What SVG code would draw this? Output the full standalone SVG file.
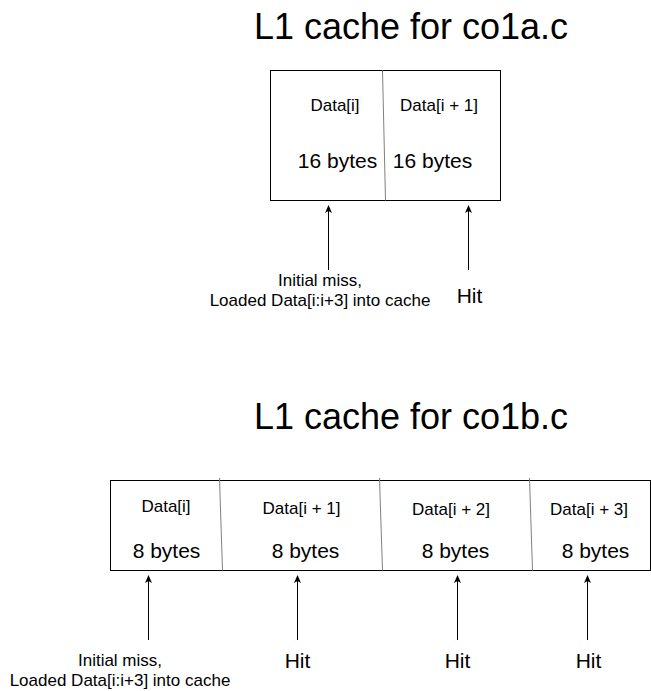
<svg xmlns="http://www.w3.org/2000/svg" width="651" height="691" viewBox="0 0 651 691">
<defs>
<marker id="ah" markerWidth="8" markerHeight="8" refX="7" refY="4" orient="auto" markerUnits="userSpaceOnUse">
<path d="M0,0.5 L8,4 L0,7.5 L2,4 Z" fill="#000"/>
</marker>
<style>
text{font-family:"Liberation Sans",Arial,sans-serif;fill:#000}
.title{font-size:36px;text-anchor:middle}
.sm{font-size:17px;text-anchor:middle}
.md{font-size:21px;text-anchor:middle}
.box{fill:#fff;stroke:#000;stroke-width:1}
.div{stroke:#808080;stroke-width:1;fill:none}
.arr{stroke:#000;stroke-width:1;fill:none;marker-end:url(#ah)}
</style>
</defs>
<rect width="651" height="691" fill="#fff"/>
<g id="title-a"><text class="title" x="411" y="39">L1 cache for co1a.c</text></g>
<g id="cache-a">
<rect class="box" x="270.5" y="70.5" width="230" height="130"/>
<line class="div" x1="382.5" y1="70.5" x2="385.5" y2="200.5"/>
<text class="sm" x="335" y="111">Data[i]</text>
<text class="sm" x="439" y="111">Data[i + 1]</text>
<text class="md" x="337.5" y="168">16 bytes</text>
<text class="md" x="432.5" y="168">16 bytes</text>
</g>
<g id="label-a1"><text class="sm" x="320" y="286">Initial miss,</text><text class="sm" x="320" y="306">Loaded Data[i:i+3] into cache</text></g>
<g id="label-a2"><text class="md" x="469.5" y="303">Hit</text></g>
<g id="title-b"><text class="title" x="411" y="429">L1 cache for co1b.c</text></g>
<g id="cache-b">
<rect class="box" x="110.5" y="480.5" width="540" height="90"/>
<line class="div" x1="219.5" y1="478" x2="222.5" y2="570.5"/>
<line class="div" x1="379.5" y1="478" x2="382.5" y2="570.5"/>
<line class="div" x1="529.5" y1="478" x2="532.5" y2="570.5"/>
<text class="sm" x="166" y="512">Data[i]</text>
<text class="sm" x="301.5" y="514">Data[i + 1]</text>
<text class="sm" x="451" y="515">Data[i + 2]</text>
<text class="sm" x="589" y="515">Data[i + 3]</text>
<text class="md" x="166.5" y="558">8 bytes</text>
<text class="md" x="305.5" y="558">8 bytes</text>
<text class="md" x="455.5" y="558">8 bytes</text>
<text class="md" x="595.5" y="558">8 bytes</text>
</g>
<g id="label-b1"><text class="sm" x="120" y="666">Initial miss,</text><text class="sm" x="120" y="686">Loaded Data[i:i+3] into cache</text></g>
<g id="label-b2"><text class="md" x="297.5" y="668">Hit</text></g>
<g id="label-b3"><text class="md" x="457.5" y="668">Hit</text></g>
<g id="label-b4"><text class="md" x="588.5" y="668">Hit</text></g>
<g id="connectors">
<line class="arr" x1="328.5" y1="270" x2="328.5" y2="206"/>
<line class="arr" x1="468.5" y1="270" x2="468.5" y2="206"/>
<line class="arr" x1="148.5" y1="640" x2="148.5" y2="576"/>
<line class="arr" x1="297.5" y1="640" x2="297.5" y2="576"/>
<line class="arr" x1="457.5" y1="640" x2="457.5" y2="576"/>
<line class="arr" x1="587.5" y1="640" x2="587.5" y2="576"/>
</g>
</svg>
